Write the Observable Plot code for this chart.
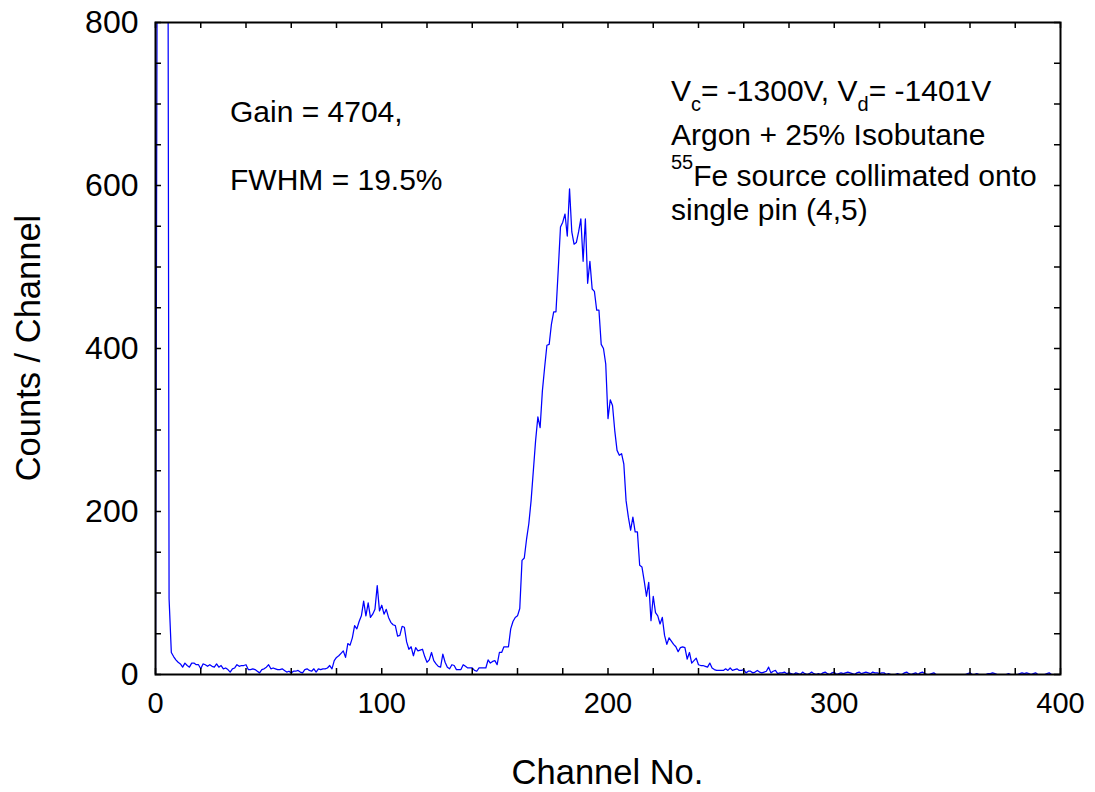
<!DOCTYPE html>
<html><head><meta charset="utf-8">
<script src="https://cdn.jsdelivr.net/npm/d3@7"></script>
<script src="https://cdn.jsdelivr.net/npm/@observablehq/plot@0.6"></script>
<style>body{margin:0;background:#fff}</style>
</head><body><div id="chart"></div>
<script>
// Counts per channel, channels 0..400 (index = channel number)
const counts000 = [0,1200,3000,3500,3000,1800,93,27,22,18, 15,13,9,14,11,9,14,14,12,12, 7,13,12,10,12,10,9,13,9,11, 7,8,6,3,7,8,12,10,11,11, 12,6,6,7,6,4,2,6,7,9, 12,7,8,7,6,6,7,5,3,4, 2,4,4,5,3,2,6,7,5,4, 7,3,7,6,7,7,8,11,7,17];
const counts080 = [21,23,26,29,21,38,36,45,60,56, 65,72,90,72,88,70,74,80,109,78, 85,74,80,70,64,61,60,47,48,59, 58,40,31,34,23,33,29,30,31,22, 15,18,27,17,13,10,9,25,15,9, 7,12,11,6,6,6,12,10,8,8, 8,5,4,8,8,8,8,18,14,16, 17,12,27,27,34,34,34,56,65,70];
const counts160 = [72,81,140,143,166,185,213,250,287,316, 303,348,377,404,405,430,445,445,496,549, 555,565,538,596,543,528,530,543,559,507, 559,480,507,473,470,447,447,405,400,381, 314,337,330,299,275,269,271,258,213,193, 177,193,175,175,134,132,115,96,113,66, 96,76,72,62,70,48,37,45,41,37, 34,28,33,34,33,19,27,14,17,20];
const counts240 = [12,11,11,10,9,14,8,6,5,5, 5,5,7,5,8,5,6,7,5,5, 6,2,4,4,2,3,5,3,2,3, 4,9,2,4,5,1,2,2,3,1, 2,1,0,2,1,0,3,1,0,1, 3,1,0,1,0,2,3,1,0,2, 3,0,1,2,1,2,3,2,1,0, 2,3,1,2,3,2,1,3,2,2];
const counts320 = [1,2,2,0,1,0,0,0,1,0, 0,2,3,1,0,1,2,0,2,3, 1,0,0,1,2,0,0,0,0,0, 0,0,0,0,0,0,0,0,0,1, 2,0,0,1,0,0,0,0,1,1, 2,1,0,0,0,0,0,1,0,0, 0,0,1,2,1,2,1,0,1,2, 0,0,0,0,1,2,0,0,0,0, 0];

const xTickLabels = [0,100,200,300,400];
const yTickLabels = [0,200,400,600,800];
const xMinorTicks = [0,20,40,60,80,100,120,140,160,180,200,220,240,260,280,300,320,340,360,380,400];
const yMinorTicks = [0,50,100,150,200,250,300,350,400,450,500,550,600,650,700,750,800];

const xTitle = "Channel No.";
const yTitle = "Counts / Channel";

const counts = [...counts000, ...counts080, ...counts160, ...counts240, ...counts320];
const data = counts.map((v, i) => ({channel: i, counts: v}));

const W = 1095, H = 792, mT = 22, mR = 35, mB = 118, mL = 155;
const innerW = W - mL - mR, innerH = H - mT - mB;
const tk = 6;
const FONT = '"Liberation Sans", Arial, Helvetica, sans-serif';

const chart = Plot.plot({
  width: W, height: H,
  marginTop: mT, marginRight: mR, marginBottom: mB, marginLeft: mL,
  style: {fontFamily: FONT, fontSize: "29px", color: "black", background: "white", overflow: "visible"},
  x: {domain: [0, 400]},
  y: {domain: [0, 800]},
  marks: [
    Plot.line(data, {x: "channel", y: "counts", stroke: "#0000ff", strokeWidth: 1.25, clip: true}),
    Plot.tickX(xMinorTicks, {x: d => d, insetTop: innerH - tk, stroke: "black", strokeWidth: 1.5}),
    Plot.tickX(xMinorTicks, {x: d => d, insetBottom: innerH - tk, stroke: "black", strokeWidth: 1.5}),
    Plot.tickY(yMinorTicks, {y: d => d, insetRight: innerW - tk, stroke: "black", strokeWidth: 1.5}),
    Plot.tickY(yMinorTicks, {y: d => d, insetLeft: innerW - tk, stroke: "black", strokeWidth: 1.5}),
    Plot.frame({stroke: "black", strokeWidth: 2}),
    Plot.axisX(xTickLabels, {tickSize: 0, tickPadding: 18, label: null, fontSize: 29}),
    Plot.axisY(yTickLabels, {tickSize: 0, tickPadding: 17, label: null, fontSize: 32})
  ]
});
document.getElementById("chart").appendChild(chart);

// annotations and axis titles
const svg = d3.select(chart);
const g = svg.append("g").attr("font-family", FONT).attr("fill", "black");

g.append("text").attr("x", mL + innerW / 2).attr("y", 784).attr("text-anchor", "middle")
  .attr("font-size", 34.5).text(xTitle);
g.append("text").attr("transform", `translate(40,${mT + innerH / 2}) rotate(-90)`)
  .attr("text-anchor", "middle").attr("font-size", 34.5).text(yTitle);

const ann = g.append("g").attr("font-size", 30).attr("text-anchor", "start");
ann.append("text").attr("x", 230).attr("y", 122).text("Gain = 4704,");
ann.append("text").attr("x", 230).attr("y", 190).text("FWHM = 19.5%");

const l1 = ann.append("text").attr("x", 671).attr("y", 101);
l1.append("tspan").text("V");
l1.append("tspan").attr("font-size", 20).attr("dy", 10).text("c");
l1.append("tspan").attr("dy", -10).text("= -1300V, V");
l1.append("tspan").attr("font-size", 20).attr("dy", 10).text("d");
l1.append("tspan").attr("dy", -10).text("= -1401V");

ann.append("text").attr("x", 671).attr("y", 145).text("Argon + 25% Isobutane");

const l3 = ann.append("text").attr("x", 671).attr("y", 186);
l3.append("tspan").attr("font-size", 20).attr("dy", -17).text("55");
l3.append("tspan").attr("dy", 17).text("Fe source collimated onto");

ann.append("text").attr("x", 671).attr("y", 220).text("single pin (4,5)");
</script>
</body></html>
